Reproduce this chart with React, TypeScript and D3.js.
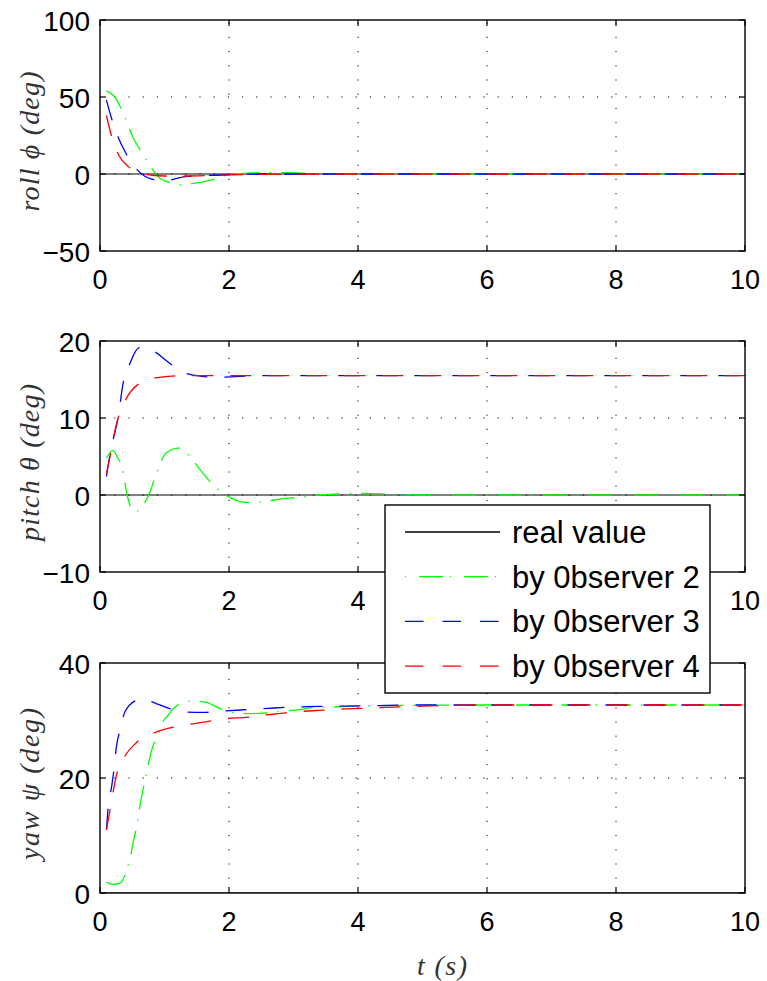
import React from "react";
import * as d3 from "d3";

// ---------- data ----------
const xTicks = [0, 2, 4, 6, 8, 10];

// Roll
const rollYTicks = [-50, 0, 50, 100];
const rollRealT = [0, 10];
const rollRealV = [0, 0];
const rollObs2T = [0.1, 0.23, 0.36, 0.52, 0.66, 0.78, 0.93, 1.04, 1.24, 1.52, 1.72, 1.91, 2.17, 2.5, 2.9, 3.3, 4, 10];
const rollObs2V = [54, 50, 39.5, 23, 13, 5, -2.8, -5, -7, -5.6, -3.9, -1.3, 0.2, 0.8, 0.9, 0.3, 0, 0];
const rollObs3T = [0.1, 0.18, 0.28, 0.4, 0.57, 0.8, 1.0, 1.32, 1.8, 2.5, 3, 10];
const rollObs3V = [48, 36, 24, 13.6, 3, -3.3, -4.3, -1.7, -0.8, 0, 0, 0];
const rollObs4T = [0.1, 0.17, 0.27, 0.44, 0.6, 0.8, 1.0, 1.3, 1.8, 2.5, 3, 10];
const rollObs4V = [38, 26, 14, 4.8, 1, -0.8, -1.3, -1.3, -0.8, -0.2, 0, 0];

// Pitch
const pitchYTicks = [-10, 0, 10, 20];
const pitchRealT = [0, 10];
const pitchRealV = [0, 0];
const pitchObs2T = [0.1, 0.2, 0.27, 0.34, 0.42, 0.54, 0.62, 0.68, 0.77, 0.87, 1.03, 1.22, 1.3, 1.44, 1.57, 1.71, 1.93, 2.11, 2.32, 2.59, 2.81, 3.1, 3.4, 4, 4.5, 5, 10];
const pitchObs2V = [4.8, 5.8, 4.9, 3.7, 0, -2.2, -1.8, -1.2, 0.3, 2.7, 5.5, 6.1, 5.8, 4.5, 3.1, 1.7, 0.1, -0.7, -1.0, -0.8, -0.5, -0.3, 0, 0.2, 0.1, 0, 0];
const pitchObs3T = [0.1, 0.15, 0.21, 0.28, 0.36, 0.46, 0.6, 0.7, 0.85, 1.05, 1.27, 1.55, 1.83, 2.5, 10];
const pitchObs3V = [2.4, 5, 7.4, 10, 14.6, 17, 19.1, 19.2, 18.6, 17.3, 16, 15.45, 15.3, 15.5, 15.5];
const pitchObs4T = [0.1, 0.16, 0.21, 0.28, 0.4, 0.58, 0.86, 1.32, 2, 10];
const pitchObs4V = [2.8, 5.2, 7.5, 10, 12.4, 14.3, 15.2, 15.5, 15.5, 15.5];

// Yaw
const yawYTicks = [0, 20, 40];
const yawRealT = [0, 10];
const yawRealV = [0, 0];
const yawObs2T = [0.1, 0.2, 0.31, 0.42, 0.48, 0.52, 0.58, 0.61, 0.65, 0.71, 0.75, 0.8, 0.91, 0.98, 1.04, 1.18, 1.45, 1.66, 1.86, 2.12, 2.33, 2.54, 2.8, 3.1, 3.26, 3.52, 3.9, 4.5, 6, 10];
const yawObs2V = [1.9, 1.5, 1.7, 4.3, 6.8, 9.1, 12.2, 14.6, 17, 20.3, 22.4, 24.8, 27.8, 29.9, 30.7, 32.5, 33.4, 33.1, 32.1, 31.3, 31.2, 31.3, 31.6, 31.9, 32.2, 32.3, 32.5, 32.6, 32.7, 32.7];
const yawObs3T = [0.1, 0.13, 0.18, 0.22, 0.25, 0.31, 0.39, 0.58, 0.65, 0.88, 1.3, 1.6, 1.86, 2.3, 2.6, 2.9, 3.2, 3.8, 5, 10];
const yawObs3V = [11, 15.3, 18.5, 21.8, 25.1, 28.3, 31.6, 33.6, 33.8, 32.9, 31.5, 31.4, 31.6, 31.9, 32.1, 32.3, 32.4, 32.5, 32.7, 32.7];
const yawObs4T = [0.1, 0.15, 0.2, 0.26, 0.38, 0.56, 0.83, 1.32, 1.6, 1.86, 2.3, 2.6, 2.85, 3.15, 3.45, 3.75, 4.05, 4.45, 5, 6, 10];
const yawObs4V = [11, 14.1, 17.4, 20.7, 23.7, 26.1, 27.8, 29.2, 29.7, 30.2, 30.6, 31, 31.3, 31.6, 31.8, 32, 32.1, 32.3, 32.5, 32.7, 32.7];

const legendLabels = ["real value", "by 0bserver 2", "by 0bserver 3", "by 0bserver 4"];
const seriesColors = ["#000000", "#00ff00", "#0000ff", "#ff0000"];
const seriesDashes = [null, "24,10,1.5,10", "21,17", "21,17"];

const panels = [
  {
    label: ["roll ", "\u03d5", " (deg)"],
    yDomain: [-50, 100],
    yTicks: rollYTicks,
    series: [
      [rollRealT, rollRealV],
      [rollObs2T, rollObs2V],
      [rollObs3T, rollObs3V],
      [rollObs4T, rollObs4V],
    ],
  },
  {
    label: ["pitch ", "\u03b8", " (deg)"],
    yDomain: [-10, 20],
    yTicks: pitchYTicks,
    series: [
      [pitchRealT, pitchRealV],
      [pitchObs2T, pitchObs2V],
      [pitchObs3T, pitchObs3V],
      [pitchObs4T, pitchObs4V],
    ],
  },
  {
    label: ["yaw ", "\u03c8", " (deg)"],
    yDomain: [0, 40],
    yTicks: yawYTicks,
    series: [
      [yawRealT, yawRealV],
      [yawObs2T, yawObs2V],
      [yawObs3T, yawObs3V],
      [yawObs4T, yawObs4V],
    ],
  },
];

// ---------- layout ----------
const W = 767;
const H = 981;
const X0 = 100;
const X1 = 745;
const panelBoxes = [
  { top: 20, bottom: 251 },
  { top: 341, bottom: 572 },
  { top: 663, bottom: 893 },
];
const labelLengths = [140, 157, 152];
const tickFont = "Liberation Sans, Arial, Helvetica, sans-serif";
const mathFont = "Liberation Serif, Times New Roman, serif";

export default function App() {
  const x = d3.scaleLinear().domain([0, 10]).range([X0, X1]);

  return (
    <svg
      width={W}
      height={H}
      style={{ position: "absolute", left: 0, top: 0, background: "#fff" }}
    >
      <rect x={0} y={0} width={W} height={H} fill="#fff" />
      <defs>
        {panelBoxes.map((b, i) => (
          <clipPath id={`clip${i}`} key={i}>
            <rect x={X0} y={b.top} width={X1 - X0} height={b.bottom - b.top} />
          </clipPath>
        ))}
      </defs>
      {panels.map((p, i) => {
        const box = panelBoxes[i];
        const y = d3.scaleLinear().domain(p.yDomain).range([box.bottom, box.top]);
        const line = d3
          .line<[number, number]>()
          .x((d) => x(d[0]))
          .y((d) => y(d[1]))
          .curve(d3.curveMonotoneX);
        const innerX = xTicks.filter((t) => t > 0 && t < 10);
        const innerY = p.yTicks.filter((t) => t > p.yDomain[0] && t < p.yDomain[1]);
        const cy = (box.top + box.bottom) / 2 + 6;
        return (
          <g key={i}>
            {innerX.map((t) => (
              <line
                key={"gx" + t}
                x1={x(t)}
                x2={x(t)}
                y1={box.bottom}
                y2={box.top}
                stroke="#000"
                strokeWidth={1}
                strokeDasharray="1.2,13"
              />
            ))}
            {innerY.map((t) => (
              <line
                key={"gy" + t}
                x1={X0}
                x2={X1}
                y1={y(t)}
                y2={y(t)}
                stroke="#000"
                strokeWidth={1}
                strokeDasharray="1.2,13"
              />
            ))}
            <g clipPath={`url(#clip${i})`}>
              {p.series.map((s, k) => {
                const pts = s[0].map((t, j) => [t, s[1][j]] as [number, number]);
                return (
                  <path
                    key={k}
                    d={line(pts) || ""}
                    fill="none"
                    stroke={seriesColors[k]}
                    strokeWidth={k === 0 ? 1 : 1.3}
                    strokeDasharray={seriesDashes[k] || undefined}
                  />
                );
              })}
            </g>
            {xTicks.map((t) => (
              <g key={"tx" + t}>
                <line x1={x(t)} x2={x(t)} y1={box.bottom} y2={box.bottom - 6} stroke="#000" strokeWidth={1.2} />
                <line x1={x(t)} x2={x(t)} y1={box.top} y2={box.top + 6} stroke="#000" strokeWidth={1.2} />
                <text
                  x={x(t)}
                  y={box.bottom + 38}
                  textAnchor="middle"
                  fontFamily={tickFont}
                  fontSize={27}
                  fill="#000"
                >
                  {t}
                </text>
              </g>
            ))}
            {p.yTicks.map((t) => (
              <g key={"ty" + t}>
                <line x1={X0} x2={X0 + 6} y1={y(t)} y2={y(t)} stroke="#000" strokeWidth={1.2} />
                <line x1={X1} x2={X1 - 6} y1={y(t)} y2={y(t)} stroke="#000" strokeWidth={1.2} />
                <text
                  x={90}
                  y={y(t) + 11}
                  textAnchor="end"
                  fontFamily={tickFont}
                  fontSize={28}
                  fill="#000"
                >
                  {t < 0 ? "\u2212" + Math.abs(t) : t}
                </text>
              </g>
            ))}
            <rect
              x={X0}
              y={box.top}
              width={X1 - X0}
              height={box.bottom - box.top}
              fill="none"
              stroke="#000"
              strokeWidth={1.4}
            />
            <text
              transform={`translate(39,${cy}) rotate(-90)`}
              textAnchor="middle"
              fontFamily={mathFont}
              fontStyle="italic"
              fontSize={28}
              fill="#333"
              textLength={labelLengths[i]}
              lengthAdjust="spacing"
            >
              {p.label.join("")}
            </text>
          </g>
        );
      })}
      <text
        x={442}
        y={975}
        textAnchor="middle"
        fontFamily={mathFont}
        fontStyle="italic"
        fontSize={28}
        fill="#333"
        textLength={50}
        lengthAdjust="spacing"
      >
        t (s)
      </text>
      <g>
        <rect x={385} y={505} width={325} height={188} fill="#fff" stroke="#000" strokeWidth={1.4} />
        {legendLabels.map((lab, k) => {
          const ry = 532 + k * 44.7;
          return (
            <g key={lab}>
              <line
                x1={405}
                x2={500}
                y1={ry}
                y2={ry}
                stroke={seriesColors[k]}
                strokeWidth={1.3}
                strokeDasharray={
                  k === 0 ? undefined : k === 1 ? "1,13,24,7" : "18.5,19"
                }
              />
              <text
                x={512}
                y={ry + 11}
                fontFamily={tickFont}
                fontSize={31}
                fill="#000"
              >
                {lab}
              </text>
            </g>
          );
        })}
      </g>
    </svg>
  );
}
